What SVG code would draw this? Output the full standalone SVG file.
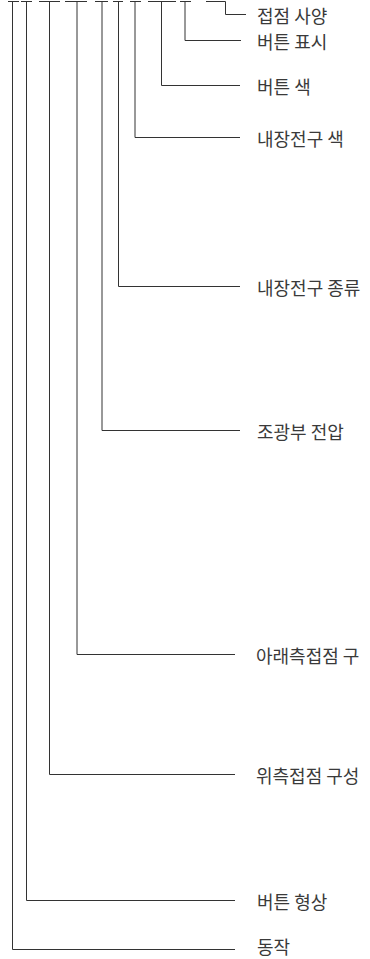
<svg xmlns="http://www.w3.org/2000/svg" width="370" height="959" viewBox="0 0 370 959">
<style>
.c{fill:none;stroke:#333;stroke-width:1}
.t{font-family:"Noto Sans CJK KR","Noto Sans",sans-serif;font-size:18px;fill:#3a3a3a;dominant-baseline:central}
</style>
<rect width="370" height="959" fill="#fff"/>
<g id="connectors">
<path class="c" d="M8,1.5H19M12.5,1.5V949.5H235"/>
<path class="c" d="M21,1.5H32M26.5,1.5V900.5H235"/>
<path class="c" d="M39,1.5H60M49.5,1.5V774.5H235"/>
<path class="c" d="M65,1.5H87M77,1.5V654.5H235"/>
<path class="c" d="M95,1.5H108M102,1.5V430.5H240"/>
<path class="c" d="M113,1.5H123M118.5,1.5V286.5H240"/>
<path class="c" d="M130,1.5H141M135,1.5V137.5H240"/>
<path class="c" d="M148,1.5H176M161.5,1.5V85.5H240"/>
<path class="c" d="M180,1.5H191M185,1.5V40.5H241"/>
<path class="c" d="M206,1.5H225.5V14.5H246"/>
</g>
<g id="n1"><text class="t" x="257" y="14.5">접점 사양</text></g>
<g id="n2"><text class="t" x="257" y="40.5">버튼 표시</text></g>
<g id="n3"><text class="t" x="257" y="85.5">버튼 색</text></g>
<g id="n4"><text class="t" x="257" y="137.5">내장전구 색</text></g>
<g id="n5"><text class="t" x="257" y="286.5">내장전구 종류</text></g>
<g id="n6"><text class="t" x="257" y="430.5">조광부 전압</text></g>
<g id="n7"><text class="t" x="256" y="654.5">아래측접점 구</text></g>
<g id="n8"><text class="t" x="256" y="774.5">위측접점 구성</text></g>
<g id="n9"><text class="t" x="257" y="900.5">버튼 형상</text></g>
<g id="n10"><text class="t" x="257" y="946">동작</text></g>
</svg>
